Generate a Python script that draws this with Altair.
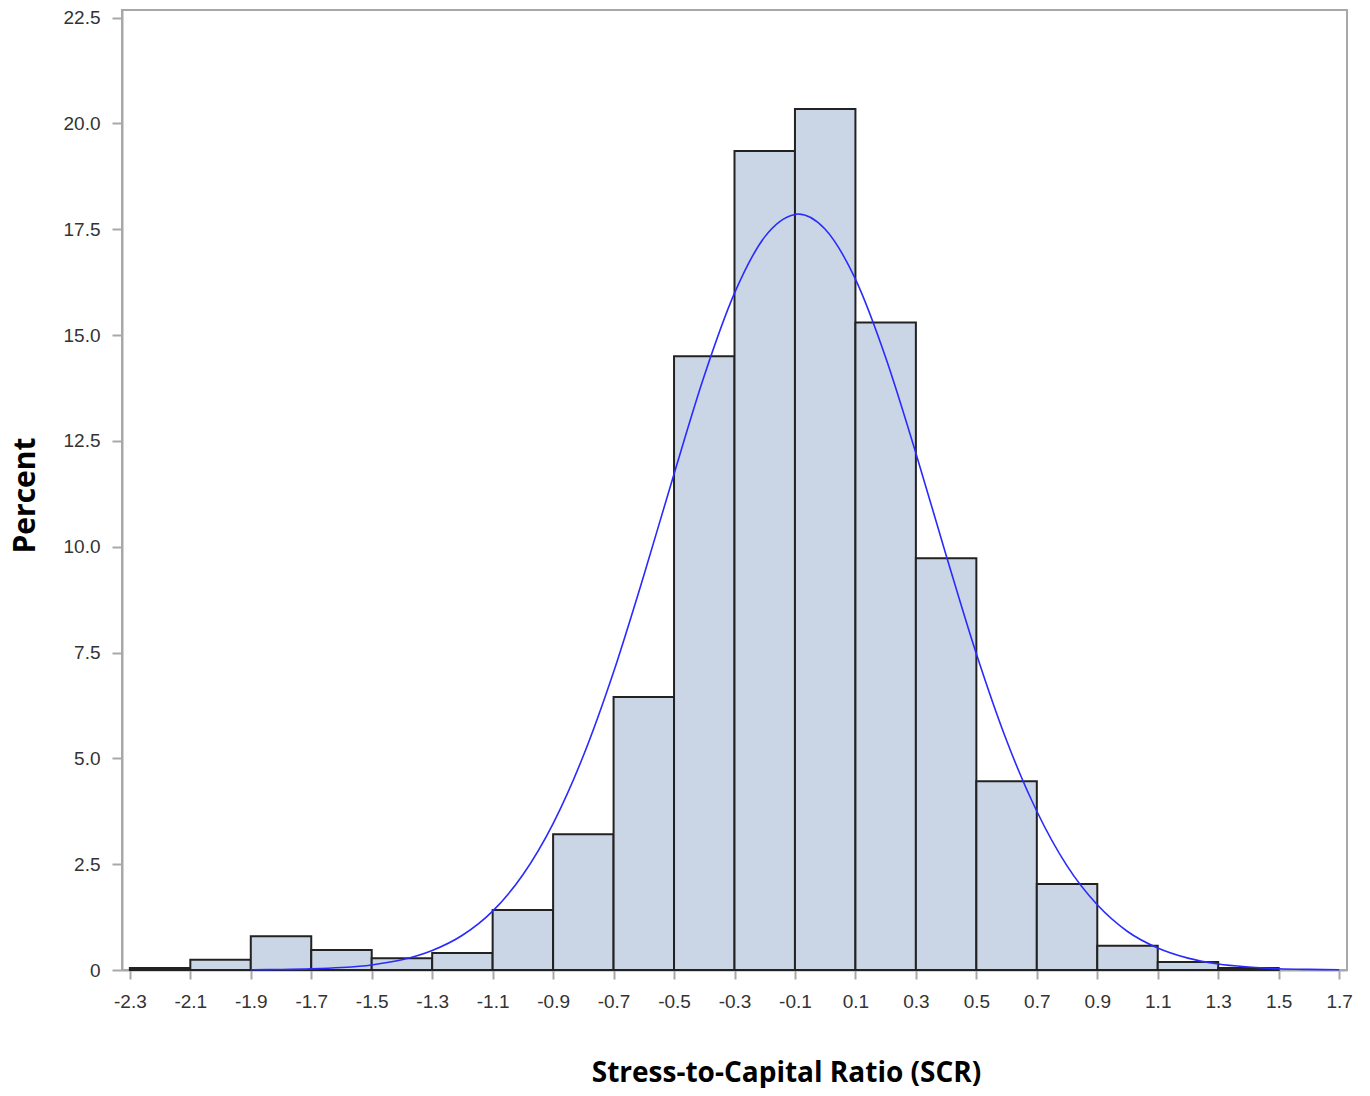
import altair as alt
import pandas as pd

# Histogram bins (left edges, width 0.2) and percentages
bin_start = [-2.3, -2.1, -1.9, -1.7, -1.5, -1.3, -1.1, -0.9, -0.7, -0.5,
             -0.3, -0.1, 0.1, 0.3, 0.5, 0.7, 0.9, 1.1, 1.3]
percent = [0.05, 0.24, 0.80, 0.47, 0.28, 0.40, 1.42, 3.21, 6.45, 14.5,
           19.35, 20.34, 15.3, 9.73, 4.46, 2.03, 0.57, 0.19, 0.05]

# Blue fitted curve
curve_x = [-1.9, -1.8, -1.7, -1.6, -1.5, -1.4, -1.3, -1.2, -1.1, -1.0,
           -0.9, -0.8, -0.7, -0.6, -0.5, -0.4, -0.3, -0.2, -0.1, -0.09,
           0.0, 0.1, 0.2, 0.3, 0.4, 0.5, 0.6, 0.7, 0.8, 0.9,
           1.0, 1.1, 1.2, 1.3, 1.4, 1.5, 1.6, 1.7]
curve_y = [0.005, 0.012, 0.027, 0.059, 0.12, 0.24, 0.46, 0.82, 1.39, 2.25,
           3.46, 5.06, 7.04, 9.32, 11.72, 14.04, 15.99, 17.32, 17.85, 17.86,
           17.50, 16.32, 14.47, 12.21, 9.80, 7.47, 5.42, 3.75, 2.46, 1.54,
           0.91, 0.52, 0.28, 0.14, 0.07, 0.03, 0.014, 0.006]

x_ticks = [-2.3, -2.1, -1.9, -1.7, -1.5, -1.3, -1.1, -0.9, -0.7, -0.5, -0.3,
           -0.1, 0.1, 0.3, 0.5, 0.7, 0.9, 1.1, 1.3, 1.5, 1.7]
y_ticks = [0, 2.5, 5, 7.5, 10, 12.5, 15, 17.5, 20, 22.5]

bars = pd.DataFrame({
    "start": bin_start,
    "end": [round(s + 0.2, 1) for s in bin_start],
    "pct": percent,
})
curve = pd.DataFrame({"x": curve_x, "y": curve_y})

xscale = alt.Scale(domain=[-2.326, 1.726], nice=False, zero=False)
yscale = alt.Scale(domain=[0, 22.68], nice=False, zero=False)

xaxis = alt.Axis(
    values=x_ticks, grid=False,
    labelExpr="replace(format(datum.value, '.1f'), '\u2212', '-')",
    title="Stress-to-Capital Ratio (SCR)",
    titleFont="Open Sans", titleFontSize=28, titleFontWeight="bold", titleColor="#000000",
    titleX=664, titleY=111, titleBaseline="alphabetic", titleAlign="center", titleAnchor="start",
    labelFont="Liberation Sans", labelFontSize=19, labelColor="#333333", labelPadding=13,
    tickSize=9, tickColor="#a8a8a8", tickWidth=2, domainColor="#a8a8a8", domainWidth=2,
    labelFlush=False, labelOverlap=False,
)
yaxis = alt.Axis(
    values=y_ticks, grid=False,
    labelExpr="datum.value == 0 ? '0' : format(datum.value, '.1f')",
    title="Percent",
    titleFont="Open Sans", titleFontSize=30, titleFontWeight="bold", titleColor="#000000",
    titleAngle=270, titleX=-88, titleY=485, titleBaseline="alphabetic", titleAlign="center",
    titleAnchor="start",
    labelFont="Liberation Sans", labelFontSize=19, labelColor="#333333", labelPadding=12,
    tickSize=10, tickColor="#a8a8a8", tickWidth=2, domainColor="#a8a8a8", domainWidth=2,
    labelFlush=False, labelOverlap=False,
)

hist = alt.Chart(bars).mark_rect(
    fill="#cad6e6", stroke="#222222", strokeWidth=2
).encode(
    x=alt.X("start:Q", scale=xscale, axis=xaxis),
    x2="end:Q",
    y=alt.Y("pct:Q", scale=yscale, axis=yaxis),
    y2=alt.datum(0),
)

line = alt.Chart(curve).mark_line(
    color="#2a2aff", strokeWidth=1.6, interpolate="monotone"
).encode(
    x=alt.X("x:Q", scale=xscale),
    y=alt.Y("y:Q", scale=yscale),
)

chart = alt.layer(hist, line).properties(
    width=1225, height=960,
    autosize=alt.AutoSizeParams(type="none"),
    padding={"left": 114, "top": 2, "right": 15, "bottom": 118},
    background="#ffffff",
).configure_view(
    stroke="#a8a8a8", strokeWidth=2
)

chart.save("out.html", embed_options={"renderer": "svg", "actions": False})
